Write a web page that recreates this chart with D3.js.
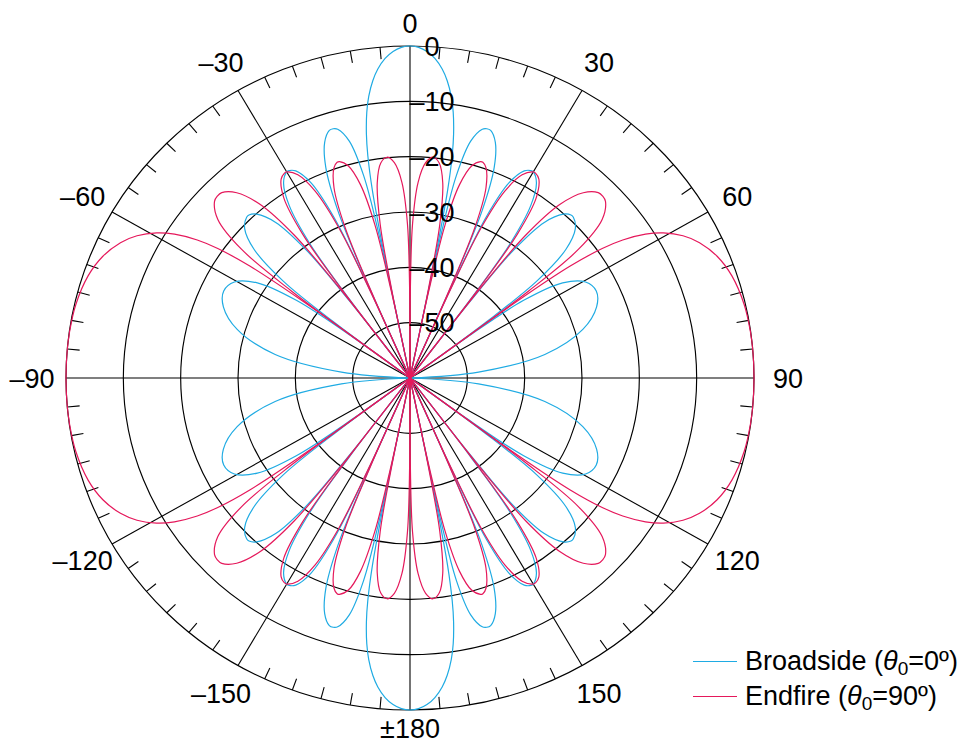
<!DOCTYPE html>
<html>
<head>
<meta charset="utf-8">
<script src="https://cdn.jsdelivr.net/npm/d3@7"></script>
<style>
  html, body { margin: 0; padding: 0; background: #ffffff; }
  svg { display: block; }
  text { font-family: "Liberation Sans", "Open Sans", sans-serif; fill: #000; }
</style>
</head>
<body>
<svg id="chart" width="974" height="745"></svg>
<script>
// ---------------- DATA ----------------
// dB rings of the polar grid
const ringLevels = [0, -10, -20, -30, -40, -50];
const ringLabels = ["0", "–10", "–20", "–30", "–40", "–50"];
// angular grid (degrees, clockwise from top)
const spokeAngles = [0, 30, 60, 90, 120, 150, 180, 210, 240, 270, 300, 330];
const angleLabels = ["0", "30", "60", "90", "120", "150", "±180", "–150", "–120", "–90", "–60", "–30"];

// Series 1: Broadside (θ0=0º) — first quadrant, [angle°, dB]
// main lobe, half (0° → first null)
const broadsideMainLobe = [
  [0, 0], [1.43, -0.22], [2.87, -0.9], [4.30, -2.09], [5.74, -3.89], [6.89, -5.89],
  [8.05, -8.61], [8.92, -11.39], [9.79, -15.29], [10.37, -19.11], [10.95, -25.5],
  [11.36, -36.2], [11.54, -60]
];
const broadsideSideLobes = [
  [[11.54, -60], [11.77, -34.0], [12.47, -22.5], [13.89, -15.9], [15.66, -13.3], [16.56, -13.0],
   [17.46, -13.1], [19.27, -14.9], [21.10, -19.2], [22.58, -27.2], [23.33, -39.4], [23.58, -60]],
  [[23.58, -60], [23.83, -39.5], [24.58, -27.8], [26.10, -20.7], [28.04, -17.6], [29.34, -17.0],
   [30.00, -17.0], [32.01, -18.4], [34.06, -22.4], [35.73, -30.1], [36.58, -42.2], [36.87, -60]],
  [[36.87, -60], [37.16, -42.4], [38.03, -30.6], [39.79, -23.4], [42.07, -20.1], [43.63, -19.3],
   [44.43, -19.3], [46.89, -20.5], [49.46, -24.2], [51.63, -31.8], [52.75, -43.8], [53.13, -60]],
  [[53.13, -60], [53.51, -47.6], [54.69, -35.7], [57.14, -28.3], [60.46, -24.8], [64.16, -23.9],
   [68.43, -25.0], [73.74, -28.6], [79.74, -36.1], [84.87, -48.0], [90.00, -60]]
];

// Series 2: Endfire (θ0=90º) — first quadrant, [angle°, dB]
// main lobe, half (90° → first null)
const endfireMainLobe = [
  [90, 0], [85.56, 0], [81.89, -0.04], [77.16, -0.22], [71.81, -0.9], [67.67, -2.09],
  [64.16, -3.89], [61.64, -5.89], [59.32, -8.61], [57.67, -11.39], [56.09, -15.29],
  [55.08, -19.11], [54.10, -25.5], [53.42, -36.2], [53.13, -60]
];
const endfireSideLobes = [
  [[53.13, -60], [52.75, -34.0], [51.63, -22.5], [49.46, -15.9], [46.89, -13.3], [45.64, -13.0],
   [44.43, -13.1], [42.07, -14.9], [39.79, -19.2], [38.03, -27.2], [37.16, -39.4], [36.87, -60]],
  [[36.87, -60], [36.58, -39.5], [35.73, -27.8], [34.06, -20.7], [32.01, -17.6], [30.66, -17.0],
   [30.00, -17.0], [28.04, -18.4], [26.10, -22.4], [24.58, -30.1], [23.83, -42.2], [23.58, -60]],
  [[23.58, -60], [23.33, -42.2], [22.58, -30.4], [21.10, -23.2], [19.27, -19.8], [18.06, -19.0],
   [17.46, -19.0], [15.66, -20.2], [13.89, -24.0], [12.47, -31.6], [11.77, -43.6], [11.54, -60]],
  [[11.54, -60], [11.30, -43.6], [10.60, -31.7], [9.21, -24.3], [7.47, -20.8], [5.74, -19.9],
   [4.01, -21.0], [2.29, -24.6], [0.92, -32.1], [0.23, -44.0], [0, -60]]
];

const seriesNames = ["Broadside", "Endfire"];
const seriesTheta0 = ["0º", "90º"];
const seriesColors = ["#1fabe3", "#e5185b"];

// ---------------- LAYOUT ----------------
const cx = 410, cy = 378, rx = 344, ry = 332;
const svg = d3.select("#chart");
svg.append("rect").attr("width", 974).attr("height", 745).attr("fill", "#fff");

const rScale = d3.scaleLinear().domain([-60, 0]).range([0, 1]).clamp(true);
const xS = d3.scaleLinear().domain([-1, 1]).range([cx - rx, cx + rx]);
const yS = d3.scaleLinear().domain([-1, 1]).range([cy + ry, cy - ry]);
const rad = a => a * Math.PI / 180;
const px = (a, rn) => xS(rn * Math.sin(rad(a)));
const py = (a, rn) => yS(rn * Math.cos(rad(a)));

const grid = svg.append("g");
// rings
ringLevels.forEach(l => {
  grid.append("ellipse")
    .attr("cx", cx).attr("cy", cy)
    .attr("rx", xS(rScale(l)) - cx).attr("ry", cy - yS(rScale(l)))
    .attr("fill", "none").attr("stroke", "#000").attr("stroke-width", 1.15);
});
// spokes
spokeAngles.forEach(a => {
  grid.append("line")
    .attr("x1", cx).attr("y1", cy)
    .attr("x2", px(a, 1)).attr("y2", py(a, 1))
    .attr("stroke", "#000").attr("stroke-width", 1.1);
});
// minor ticks every 5°
d3.range(0, 360, 5).filter(a => a % 30 !== 0).forEach(a => {
  grid.append("line")
    .attr("x1", px(a, 1)).attr("y1", py(a, 1))
    .attr("x2", px(a, 0.964)).attr("y2", py(a, 0.964))
    .attr("stroke", "#000").attr("stroke-width", 1.1);
});

// ---------------- CURVES ----------------
const line = d3.line()
  .x(d => px(d[0], rScale(d[1])))
  .y(d => py(d[0], rScale(d[1])))
  .curve(d3.curveCatmullRom.alpha(0.5));

function quadCopies(lobe) {
  return [
    lobe,
    lobe.map(([a, d]) => [-a, d]),
    lobe.map(([a, d]) => [180 - a, d]),
    lobe.map(([a, d]) => [180 + a, d])
  ];
}

// broadside full lobes
const bMain = [...broadsideMainLobe.slice(1).reverse().map(([a, d]) => [-a, d]), ...broadsideMainLobe];
const broadsideLobes = [bMain, bMain.map(([a, d]) => [180 - a, d])];
broadsideSideLobes.forEach(l => broadsideLobes.push(...quadCopies(l)));

// endfire full lobes
const eMain = [...endfireMainLobe.slice().reverse(), ...endfireMainLobe.slice(1).map(([a, d]) => [180 - a, d])];
const endfireLobes = [eMain, eMain.map(([a, d]) => [-a, d])];
endfireSideLobes.forEach(l => endfireLobes.push(...quadCopies(l)));

[broadsideLobes, endfireLobes].forEach((lobes, i) => {
  svg.append("g").selectAll("path").data(lobes).join("path")
    .attr("d", line)
    .attr("fill", "none")
    .attr("stroke", seriesColors[i])
    .attr("stroke-width", 1.2)
    .attr("stroke-linejoin", "round");
});

// ---------------- LABELS ----------------
const fs = 27;
const capHalf = 0.358 * fs;
// ring labels
ringLevels.forEach((l, i) => {
  svg.append("text")
    .attr("x", cx + 22)
    .attr("y", py(0, rScale(l)) + capHalf)
    .attr("text-anchor", "middle")
    .attr("font-size", fs)
    .text(ringLabels[i]);
});
// angle labels
spokeAngles.forEach((a, i) => {
  const c = Math.cos(rad(a));
  const lry = c > 0.99 ? 355 : (c < -0.99 ? 350 : 364);
  const lrx = 378;
  svg.append("text")
    .attr("x", cx + lrx * Math.sin(rad(a)))
    .attr("y", cy - lry * c + capHalf)
    .attr("text-anchor", "middle")
    .attr("font-size", fs)
    .text(angleLabels[i]);
});

// ---------------- LEGEND ----------------
const legend = svg.append("g");
seriesNames.forEach((name, i) => {
  const yL = 661.5 + i * 35;
  legend.append("line")
    .attr("x1", 693).attr("x2", 737).attr("y1", yL).attr("y2", yL)
    .attr("stroke", seriesColors[i]).attr("stroke-width", 1.2);
  const t = legend.append("text")
    .attr("x", 745).attr("y", yL + 8)
    .attr("font-size", 27);
  t.append("tspan").text(name + " (");
  t.append("tspan").attr("font-style", "italic").text("θ");
  t.append("tspan").attr("font-size", 19).attr("dy", 5).text("0");
  t.append("tspan").attr("dy", -5).text("=" + seriesTheta0[i] + ")");
});
</script>
</body>
</html>
